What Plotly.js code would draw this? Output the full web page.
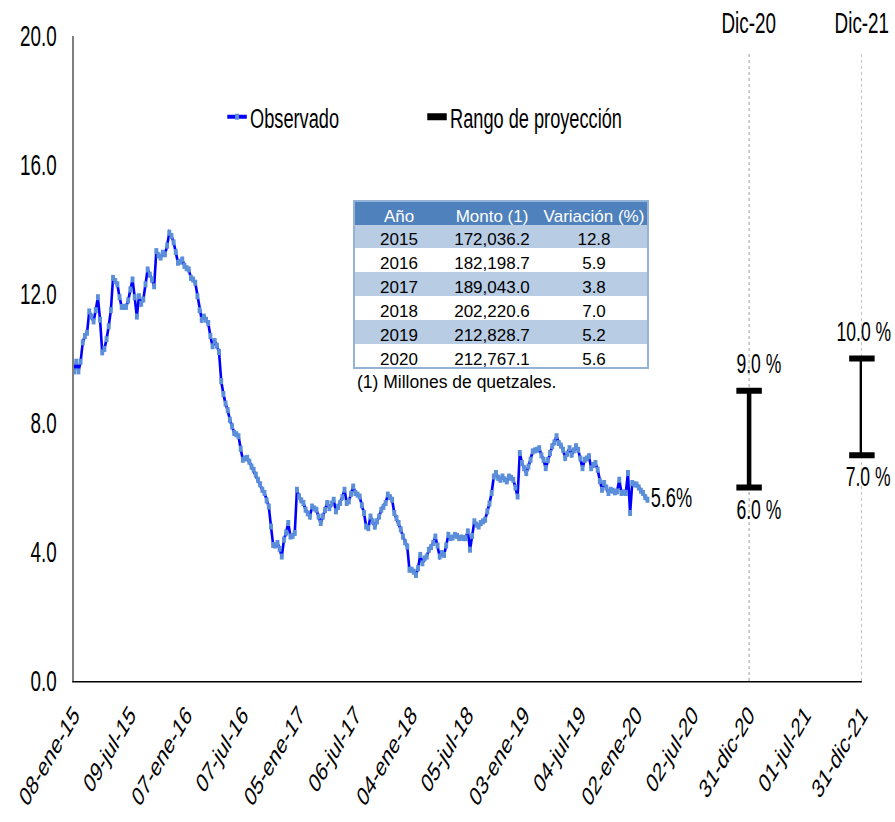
<!DOCTYPE html>
<html>
<head>
<meta charset="utf-8">
<script src="https://cdn.plot.ly/plotly-3.0.1.min.js"></script>
<style>
  html, body { margin: 0; padding: 0; background: #ffffff; overflow: hidden; }
  #wrap { position: relative; width: 895px; height: 822px; overflow: hidden; }
  #chart { position: absolute; left: 0; top: 0; width: 1377px; height: 822px;
           transform: scaleX(0.65); transform-origin: 0 0; }
  #table { position: absolute; left: 0; top: 0; width: 895px; height: 822px; }
</style>
</head>
<body>
<div id="wrap">
  <div id="chart"></div>
  <div id="table"></div>
</div>
<script>
// ---------------- DATA ----------------
// Weekly observations (every Thursday) starting 08-ene-15
const startDate = '2015-01-08';
const observado = [
  9.6, 9.9, 9.6, 9.9, 10.5, 10.7, 10.8, 11.46, 11.3, 11.15,
  11.5, 11.9, 11.2, 10.19, 10.3, 10.6, 11.0, 11.5, 12.5, 12.4,
  12.3, 11.9, 11.6, 11.6, 11.6, 11.8, 12.14, 12.45, 11.9, 11.3,
  11.93, 11.7, 11.83, 12.3, 12.76, 12.6, 12.45, 12.24, 13.33, 13.2,
  13.13, 13.28, 13.23, 13.5, 13.9, 13.8, 13.6, 13.3, 12.97, 13.0,
  13.07, 12.87, 12.8, 12.76, 12.5, 12.45, 12.35, 11.93, 11.5, 11.2,
  11.3, 11.2, 11.1, 10.7, 10.38, 10.54, 10.4, 10.2, 9.3, 8.9,
  8.6, 8.4, 8.1, 7.9, 7.69, 7.65, 7.59, 7.2, 6.86, 6.9,
  6.92, 6.8, 6.65, 6.55, 6.4, 6.24, 6.1, 5.93, 5.83, 5.6,
  5.41, 4.79, 4.22, 4.2, 4.28, 4.1, 3.86, 4.38, 4.6, 4.9,
  4.48, 4.5, 4.59, 5.93, 5.72, 5.6, 5.52, 5.31, 5.2, 5.1,
  5.41, 5.35, 5.31, 5.1, 4.9, 5.1, 5.3, 5.52, 5.36, 5.5,
  5.62, 5.26, 5.4, 5.52, 5.7, 5.93, 5.52, 5.57, 5.8, 6.03,
  5.83, 5.78, 5.72, 5.45, 5.21, 4.79, 4.74, 5.1, 4.95, 4.79,
  4.95, 5.1, 5.31, 5.4, 5.52, 5.78, 5.7, 5.62, 5.21, 5.05,
  4.9, 4.7, 4.48, 4.3, 4.17, 3.45, 3.45, 3.39, 3.29, 3.5,
  3.91, 3.65, 3.8, 3.86, 4.07, 4.15, 4.28, 4.48, 4.2, 3.86,
  3.97, 3.91, 4.2, 4.53, 4.43, 4.45, 4.53, 4.5, 4.43, 4.45,
  4.43, 4.43, 4.64, 4.07, 4.5, 4.95, 4.85, 4.79, 4.9, 4.95,
  5.0, 5.26, 5.5, 5.83, 6.34, 6.45, 6.3, 6.24, 6.34, 6.25,
  6.19, 6.34, 6.3, 6.24, 6.0, 5.72, 7.07, 6.76, 6.6, 6.45,
  6.65, 6.86, 7.12, 7.15, 7.17, 7.22, 7.0, 6.86, 6.6, 6.85,
  7.07, 7.28, 7.4, 7.59, 7.38, 7.3, 7.17, 6.92, 7.05, 7.22,
  7.02, 7.15, 7.28, 7.17, 6.9, 6.6, 6.86, 6.9, 6.97, 6.6,
  6.7, 6.76, 6.55, 6.2, 5.93, 6.14, 6.0, 5.83, 5.93, 5.9,
  5.85, 5.88, 6.24, 5.83, 5.85, 5.83, 6.45, 5.21, 6.14, 6.1,
  6.09, 6.0, 5.9, 5.83, 5.7, 5.62
];

// Projection ranges
const projDates = ['2020-12-31', '2021-12-31'];
const projLabels = ['Dic-20', 'Dic-21'];
const projLow = [6.0, 7.0];
const projHigh = [9.0, 10.0];

// X tick labels
const tickDates = ['2015-01-08', '2015-07-09', '2016-01-07', '2016-07-07', '2017-01-05',
  '2017-07-06', '2018-01-04', '2018-07-05', '2019-01-03', '2019-07-04', '2020-01-02',
  '2020-07-02', '2020-12-31', '2021-07-01', '2021-12-31'];
const tickLabels = ['08-ene-15', '09-jul-15', '07-ene-16', '07-jul-16', '05-ene-17',
  '06-jul-17', '04-ene-18', '05-jul-18', '03-ene-19', '04-jul-19', '02-ene-20',
  '02-jul-20', '31-dic-20', '01-jul-21', '31-dic-21'];
const yTicks = [0, 4, 8, 12, 16, 20];

// Table
const tableHeader = ['Año', 'Monto (1)', 'Variación (%)'];
const tableYears = ['2015', '2016', '2017', '2018', '2019', '2020'];
const tableMonto = [172036.2, 182198.7, 189043.0, 202220.6, 212828.7, 212767.1];
const tableVariacion = [12.8, 5.9, 3.8, 7.0, 5.2, 5.6];
const tableNote = '(1) Millones de quetzales.';

// ---------------- BUILD ----------------
const FONT = "'Liberation Sans', Arial, sans-serif";
const K = 0.65;                 // horizontal compression of the chart layer
const W = 895, H = 822;
const WC = 1377;                // chart layer width before compression
const sx = v => v / K;          // visible px -> chart-layer px
const ML = sx(74), MR = WC - sx(862), MT = 36, MB = H - 681;
const PW = WC - ML - MR, PH = H - MT - MB;
const fy = p => (H - MB - p) / PH;    // visible px -> paper fraction (chart)

const t0 = Date.UTC(2015, 0, 8);
const obsDates = observado.map((_, i) =>
  new Date(t0 + i * 7 * 86400000).toISOString().slice(0, 10));

const traces = [];
traces.push({
  type: 'scatter',
  x: obsDates,
  y: observado,
  mode: 'lines+markers',
  name: 'Observado',
  line: {color: '#0000FF', width: 4},
  marker: {color: '#5B8FD9', size: 6, symbol: 'square'},
  legend: 'legend',
  hoverinfo: 'skip'
});

const px = [], py = [];
projDates.forEach((d, i) => { px.push(d, d, null); py.push(projLow[i], projHigh[i], null); });
traces.push({
  type: 'scatter',
  x: px,
  y: py,
  mode: 'lines',
  name: 'Rango de proyección',
  line: {color: '#000000', width: 7},
  cliponaxis: false,
  legend: 'legend2',
  hoverinfo: 'skip'
});
const cx = [], cy = [];
projDates.forEach((d, i) => { cx.push(d, d); cy.push(projLow[i], projHigh[i]); });
traces.push({
  type: 'scatter',
  x: cx,
  y: cy,
  mode: 'markers',
  showlegend: false,
  marker: {symbol: 'line-ew-open', size: 28, color: '#000000', line: {width: 6, color: '#000000'}},
  cliponaxis: false,
  hoverinfo: 'skip'
});

const annotations = [];
projDates.forEach((d, i) => {
  annotations.push({
    x: d, y: fy(23), xref: 'x', yref: 'paper', text: projLabels[i],
    showarrow: false, font: {family: FONT, size: 29, color: '#000'},
    xanchor: 'center', yanchor: 'middle'
  });
  annotations.push({
    x: d, y: projHigh[i], xref: 'x', yref: 'y', text: projHigh[i].toFixed(1) + ' %',
    showarrow: false, font: {family: FONT, size: 27, color: '#000'},
    xanchor: 'center', yanchor: 'middle', yshift: 27, xshift: sx(i === 0 ? 10 : 2)
  });
  annotations.push({
    x: d, y: projLow[i], xref: 'x', yref: 'y', text: projLow[i].toFixed(1) + ' %',
    showarrow: false, font: {family: FONT, size: 27, color: '#000'},
    xanchor: 'center', yanchor: 'middle', yshift: -22, xshift: sx(i === 0 ? 10 : 6)
  });
});
const lastIdx = observado.length - 1;
annotations.push({
  x: obsDates[lastIdx], y: observado[lastIdx], xref: 'x', yref: 'y',
  text: observado[lastIdx].toFixed(1) + '%', showarrow: false,
  font: {family: FONT, size: 28, color: '#000'},
  xanchor: 'left', yanchor: 'middle', xshift: sx(2), yshift: 2
});

const shapes = projDates.map(d => ({
  type: 'line', xref: 'x', yref: 'paper', x0: d, x1: d, y0: 0, y1: fy(52),
  line: {color: '#9A9A9A', width: 1.5, dash: 'dot'}, layer: 'below'
}));

const layout = {
  width: WC, height: H,
  margin: {l: ML, r: MR, t: MT, b: MB},
  paper_bgcolor: '#FFFFFF',
  plot_bgcolor: '#FFFFFF',
  showlegend: true,
  xaxis: {
    type: 'date',
    range: [startDate, projDates[1]],
    tickvals: tickDates,
    ticktext: tickLabels,
    tickangle: -48,
    tickfont: {family: FONT, size: 27, color: '#000'},
    showgrid: false, zeroline: false,
    showline: true, linecolor: '#000000', linewidth: 1.5,
    ticks: '',
    ticklabelstandoff: 6
  },
  yaxis: {
    range: [0, 20],
    tickvals: yTicks,
    ticktext: yTicks.map(v => v.toFixed(1)),
    tickfont: {family: FONT, size: 29, color: '#000'},
    showgrid: false, zeroline: false,
    showline: true, linecolor: '#7F7F7F', linewidth: 3,
    ticks: '',
    ticklabelstandoff: 18
  },
  legend: {
    orientation: 'h', x: (sx(250) - 40 - ML) / PW, y: fy(117), xanchor: 'left', yanchor: 'middle',
    font: {family: FONT, size: 28, color: '#000'}, bgcolor: 'rgba(0,0,0,0)'
  },
  legend2: {
    orientation: 'h', x: (sx(450) - 40 - ML) / PW, y: fy(117), xanchor: 'left', yanchor: 'middle',
    font: {family: FONT, size: 28, color: '#000'}, bgcolor: 'rgba(0,0,0,0)'
  },
  annotations: annotations,
  shapes: shapes
};

Plotly.newPlot('chart', traces, layout, {staticPlot: true, displayModeBar: false});

// ---------- Table layer (not compressed) ----------
const tx = p => p / W;
const ty = p => 1 - p / H;
const rowFill = tableYears.map((_, i) => i % 2 === 0 ? '#B8CCE4' : '#FFFFFF');
const fmtMonto = v => v.toLocaleString('en-US', {minimumFractionDigits: 1, maximumFractionDigits: 1});
const nb = s => s.replace(/ /g, '\u00a0');

const tableTrace = {
  type: 'table',
  domain: {x: [tx(354), tx(648)], y: [ty(368), ty(201)]},
  columnwidth: [90, 96, 108],
  header: {
    values: tableHeader.map(h => [nb(h)]),
    fill: {color: '#4F81BD'},
    line: {color: '#4F81BD', width: 1},
    font: {family: FONT, size: 17, color: '#FFFFFF'},
    align: 'center',
    height: 23
  },
  cells: {
    values: [tableYears, tableMonto.map(fmtMonto), tableVariacion.map(v => v.toFixed(1))],
    fill: {color: [rowFill, rowFill, rowFill]},
    line: {color: [rowFill, rowFill, rowFill], width: 1},
    font: {family: FONT, size: 17, color: '#000000'},
    align: 'center',
    height: 24
  }
};

const tableLayout = {
  width: W, height: H,
  margin: {l: 0, r: 0, t: 0, b: 0},
  paper_bgcolor: 'rgba(0,0,0,0)',
  plot_bgcolor: 'rgba(0,0,0,0)',
  annotations: [{
    x: tx(355), y: ty(382), xref: 'paper', yref: 'paper', text: tableNote,
    showarrow: false, font: {family: FONT, size: 17.5, color: '#000'},
    xanchor: 'left', yanchor: 'middle'
  }],
  shapes: [{
    type: 'rect', xref: 'paper', yref: 'paper',
    x0: tx(354), x1: tx(648), y0: ty(368), y1: ty(201),
    line: {color: '#95B3D7', width: 2}, fillcolor: 'rgba(0,0,0,0)', layer: 'above'
  }]
};

Plotly.newPlot('table', [tableTrace], tableLayout, {staticPlot: true, displayModeBar: false});
</script>
</body>
</html>
